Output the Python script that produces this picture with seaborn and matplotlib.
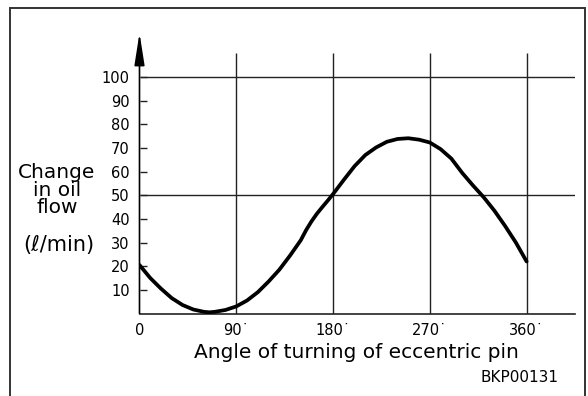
import numpy as np
import pandas as pd
import matplotlib.pyplot as plt
from matplotlib.patches import Rectangle
import seaborn as sns

# curve (angle in degrees, oil flow change in l/min)
angle = [0, 10, 20, 30, 40, 50, 60, 65, 70, 80, 90, 100, 110, 120, 130,
         140, 150, 155, 160, 165, 170, 175, 180, 190, 200, 210, 220, 230,
         240, 250, 260, 270, 280, 290, 300, 310, 320, 330, 340, 350, 355, 360]
flow = [20.5, 15.0, 10.5, 6.5, 3.6, 1.7, 0.7, 0.5, 0.7, 1.5, 3.0, 5.5, 9.0,
        13.5, 18.5, 24.5, 31.0, 35.3, 39.0, 42.2, 45.0, 47.7, 50.5, 56.5,
        62.3, 67.0, 70.2, 72.6, 73.8, 74.1, 73.5, 72.3, 69.5, 65.5, 59.5,
        54.2, 49.2, 43.5, 37.0, 30.0, 26.0, 22.0]

x_ticks = [0, 90, 180, 270, 360]
x_labels = ["0", "90˙", "180˙", "270˙", "360˙"]
y_ticks = [10, 20, 30, 40, 50, 60, 70, 80, 90, 100]
h_grid = [50, 100]
v_grid = [90, 180, 270, 360]

df = pd.DataFrame({"angle": angle, "flow": flow})

sns.set_style("white")
plt.rcParams["font.family"] = ["DejaVu Sans"]
plt.rcParams["text.color"] = "black"
plt.rcParams["xtick.color"] = "black"
plt.rcParams["ytick.color"] = "black"

fig = plt.figure(figsize=(5.88, 3.96), dpi=100)
ax = fig.add_axes([139.5 / 588, 82.5 / 396, 435.5 / 588, 280.5 / 396])
ax.set_xlim(0, 405)
ax.set_ylim(0, 118.6)

line_col = "#222222"
ax.hlines(h_grid, 0, 405, color=line_col, lw=1.0, zorder=1)
ax.vlines(v_grid, 0, 110, color=line_col, lw=1.0, zorder=1)

sns.lineplot(data=df, x="angle", y="flow", ax=ax, color="black", lw=2.7,
             zorder=3)

for s in ["top", "right", "left"]:
    ax.spines[s].set_visible(False)
ax.spines["bottom"].set_color(line_col)
ax.spines["bottom"].set_linewidth(1.2)

# y axis with arrow head
ax.annotate("", xy=(0, 118.6), xytext=(0, 0), annotation_clip=False,
            arrowprops=dict(arrowstyle="-|>,head_length=1.4,head_width=0.22",
                            color="black", lw=1.2, mutation_scale=14,
                            shrinkA=0, shrinkB=0))

ax.set_yticks(y_ticks)
ax.set_yticklabels([str(v) for v in y_ticks], fontsize=10.5)
ax.tick_params(axis="y", direction="in", length=5, width=1, pad=7,
               color=line_col, left=True)
ax.set_xticks(x_ticks)
ax.set_xticklabels(x_labels, fontsize=10.5)
ax.tick_params(axis="x", length=0, pad=7)
ax.set_xlabel("")
ax.set_ylabel("")

fig.text(356 / 588, 1 - 353 / 396, "Angle of turning of eccentric pin",
         fontsize=14.5, ha="center", va="center")
fig.text(57 / 588, 1 - 190 / 396, "Change\nin oil\nflow", fontsize=14.5,
         ha="center", va="center", linespacing=0.92)
fig.text(59 / 588, 1 - 245 / 396, "(ℓ/min)", fontsize=15,
         ha="center", va="center")
fig.text(559 / 588, 1 - 378 / 396, "BKP00131", fontsize=11,
         ha="right", va="center")

fig.patches.append(Rectangle((10 / 588, -0.05), 575 / 588, 1.05 - 8 / 396,
                             transform=fig.transFigure, fill=False,
                             edgecolor="#333333", lw=1.4))

fig.savefig("out.png", dpi=100)
